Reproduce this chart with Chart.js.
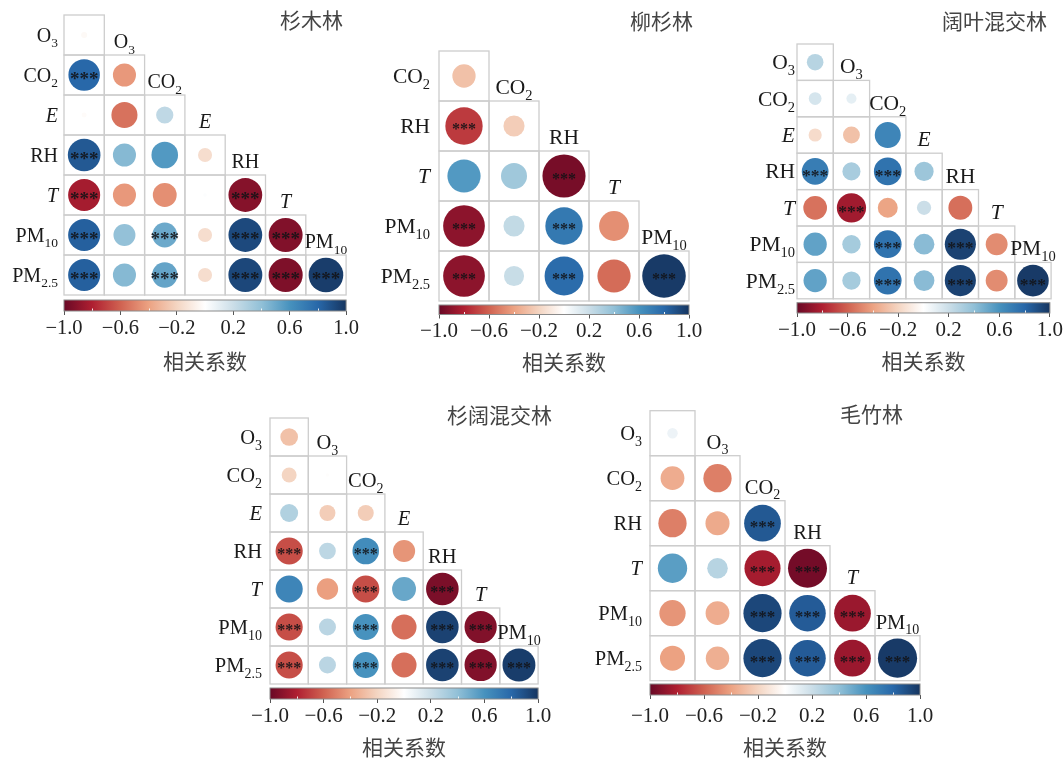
<!DOCTYPE html>
<html>
<head>
<meta charset="utf-8">
<script src="https://cdn.jsdelivr.net/npm/chart.js@4/dist/chart.umd.min.js"></script>
<style>
  html, body { margin: 0; padding: 0; background: #fff; }
  #wrap { position: relative; width: 1064px; height: 760px; overflow: hidden; background: #fff; }
  #wrap canvas { position: absolute; left: 0; top: 0; pointer-events: none; }
</style>
</head>
<body>
<div id="wrap"></div>
<script>
// ---------------- data ----------------
// 杉木林
const title1 = '杉木林';
const rows1 = ['O3', 'CO2', 'E', 'RH', 'T', 'PM10', 'PM2.5'];
const cols1 = ['', 'O3', 'CO2', 'E', 'RH', 'T', 'PM10'];
const corr1 = [
  [-0.03],
  [0.80, -0.43],
  [-0.02, -0.55, 0.24],
  [0.86, 0.43, 0.57, -0.16],
  [-0.83, -0.43, -0.46, 0.01, -0.92],
  [0.83, 0.39, 0.50, -0.16, 0.92, -0.93],
  [0.83, 0.43, 0.52, -0.16, 0.93, -0.94, 0.97]
];
const sig1 = [
  [0],
  [1, 0],
  [0, 0, 0],
  [1, 0, 0, 0],
  [1, 0, 0, 0, 1],
  [1, 0, 1, 0, 1, 1],
  [1, 0, 1, 0, 1, 1, 1]
];

// 柳杉林
const title2 = '柳杉林';
const rows2 = ['CO2', 'RH', 'T', 'PM10', 'PM2.5'];
const cols2 = ['', 'CO2', 'RH', 'T', 'PM10'];
const corr2 = [
  [-0.28],
  [-0.72, -0.23],
  [0.57, 0.35, -0.96],
  [-0.90, 0.23, 0.72, -0.46],
  [-0.90, 0.21, 0.78, -0.57, 0.98]
];
const sig2 = [
  [0],
  [1, 0],
  [0, 0, 1],
  [1, 0, 1, 0],
  [1, 0, 1, 0, 1]
];

// 阔叶混交林
const title3 = '阔叶混交林';
const rows3 = ['O3', 'CO2', 'E', 'RH', 'T', 'PM10', 'PM2.5'];
const cols3 = ['', 'O3', 'CO2', 'E', 'RH', 'T', 'PM10'];
const corr3 = [
  [0.27],
  [0.16, 0.10],
  [-0.17, -0.28, 0.66],
  [0.70, 0.32, 0.75, 0.36],
  [-0.55, -0.84, -0.39, 0.20, -0.56],
  [0.53, 0.33, 0.75, 0.42, 0.95, -0.47],
  [0.53, 0.33, 0.75, 0.42, 0.95, -0.47, 0.98]
];
const sig3 = [
  [0],
  [0, 0],
  [0, 0, 0],
  [1, 0, 1, 0],
  [0, 1, 0, 0, 0],
  [0, 0, 1, 0, 1, 0],
  [0, 0, 1, 0, 1, 0, 1]
];

// 杉阔混交林
const title4 = '杉阔混交林';
const rows4 = ['O3', 'CO2', 'E', 'RH', 'T', 'PM10', 'PM2.5'];
const cols4 = ['', 'O3', 'CO2', 'E', 'RH', 'T', 'PM10'];
const corr4 = [
  [-0.28],
  [-0.20, -0.01],
  [0.29, -0.23, -0.23],
  [-0.66, 0.25, 0.63, -0.44],
  [0.66, -0.41, -0.66, 0.51, -0.95],
  [-0.66, 0.26, 0.60, -0.56, 0.95, -0.93],
  [-0.66, 0.26, 0.60, -0.56, 0.95, -0.93, 0.97]
];
const sig4 = [
  [0],
  [0, 0],
  [0, 0, 0],
  [1, 0, 1, 0],
  [0, 0, 1, 0, 1],
  [1, 0, 1, 0, 1, 1],
  [1, 0, 1, 0, 1, 1, 1]
];

// 毛竹林
const title5 = '毛竹林';
const rows5 = ['O3', 'CO2', 'RH', 'T', 'PM10', 'PM2.5'];
const cols5 = ['', 'O3', 'CO2', 'RH', 'T', 'PM10'];
const corr5 = [
  [0.07],
  [-0.36, -0.51],
  [-0.51, -0.37, 0.86],
  [0.55, 0.27, -0.83, -0.97],
  [-0.44, -0.36, 0.93, 0.85, -0.86],
  [-0.40, -0.35, 0.93, 0.85, -0.86, 0.98]
];
const sig5 = [
  [0],
  [0, 0],
  [0, 0, 1],
  [0, 0, 1, 1],
  [0, 0, 1, 1, 1],
  [0, 0, 1, 1, 1, 1]
];

// colour bar
const cbarTicks = [-1, -0.6, -0.2, 0.2, 0.6, 1];
const cbarMinor = [-0.8, -0.4, 0, 0.4, 0.8];
const cbarTitle = '相关系数';

// ---------------- styling ----------------
const W = 1064, H = 760;
const SERIF = '"Liberation Serif", "DejaVu Serif", serif';
const CJK = '"Noto Sans CJK SC", "Noto Sans", sans-serif';
const RDBU_BASE = ['#67001F', '#B2182B', '#D6604D', '#F4A582', '#FDDBC7', '#FFFFFF',
                   '#D1E5F0', '#92C5DE', '#4393C3', '#2166AC', '#0E2F5E'];

function hexToRgb(h) {
  const n = parseInt(h.slice(1), 16);
  return [(n >> 16) & 255, (n >> 8) & 255, n & 255];
}
// slightly softened diverging palette
const RDBU_RGB = RDBU_BASE.map(hexToRgb).map(c => c.map(v => Math.round(v * 0.93 + 128 * 0.07)));
RDBU_RGB[5] = [255, 255, 255];
const RDBU = RDBU_RGB.map(c => `rgb(${c[0]},${c[1]},${c[2]})`);

function rdbu(v) {
  const t = (Math.max(-1, Math.min(1, v)) + 1) / 2 * (RDBU_RGB.length - 1);
  const i = Math.min(Math.floor(t), RDBU_RGB.length - 2);
  const f = t - i;
  const a = RDBU_RGB[i], b = RDBU_RGB[i + 1];
  const c = a.map((av, k) => Math.round(av + (b[k] - av) * f));
  return `rgb(${c[0]},${c[1]},${c[2]})`;
}

// panel geometry (grid origin, cell size, fonts, title spot, colour bar)
const layouts = [
  { left: 64,  top: 15,    cw: 40.3, ch: 40,   font: 20,   sub: 13.5, gap: 6, star: 19,
    titleX: 343, titleY: 20,  barTop: 300,   barH: 11,   tickPad: 1, tickFont: 20.5, axisTitleY: 361 },
  { left: 439, top: 51,    cw: 50,   ch: 50,   font: 21.5, sub: 14.5, gap: 9, star: 16,
    titleX: 693, titleY: 21,  barTop: 305,   barH: 9.5,  tickPad: 0, tickFont: 21, axisTitleY: 362.5 },
  { left: 797, top: 44,    cw: 36.3, ch: 36.4, font: 21.5, sub: 14.5, gap: 2, star: 17.5,
    titleX: 1047, titleY: 21, barTop: 302.7, barH: 10.3, tickPad: 1, tickFont: 21, axisTitleY: 361 },
  { left: 270, top: 418,   cw: 38.3, ch: 38,   font: 20.5, sub: 14,   gap: 8, star: 16,
    titleX: 552, titleY: 415, barTop: 688,   barH: 11,   tickPad: 1, tickFont: 21, axisTitleY: 747 },
  { left: 650, top: 410.7, cw: 45,   ch: 45,   font: 20.5, sub: 14,   gap: 8, star: 17,
    titleX: 903, titleY: 414, barTop: 684,   barH: 11,   tickPad: 5, tickFont: 21, axisTitleY: 747.5 }
];

const panels = [
  { title: title1, rows: rows1, cols: cols1, corr: corr1, sig: sig1 },
  { title: title2, rows: rows2, cols: cols2, corr: corr2, sig: sig2 },
  { title: title3, rows: rows3, cols: cols3, corr: corr3, sig: sig3 },
  { title: title4, rows: rows4, cols: cols4, corr: corr4, sig: sig4 },
  { title: title5, rows: rows5, cols: cols5, corr: corr5, sig: sig5 }
];

// ---------------- helpers ----------------
function splitLabel(s) {
  const m = s.match(/^([A-Za-z]+)([0-9.]+)$/);
  const main = m ? m[1] : s;
  const sub = m ? m[2] : '';
  return { main, sub, italic: s.length === 1 };
}

function drawVarLabel(ctx, s, x, baseline, align, fs, subFs) {
  const { main, sub, italic } = splitLabel(s);
  const mainFont = `${italic ? 'italic ' : ''}${fs}px ${SERIF}`;
  const subFont = `${subFs}px ${SERIF}`;
  ctx.font = mainFont;
  const wm = ctx.measureText(main).width;
  ctx.font = subFont;
  const ws = sub ? ctx.measureText(sub).width : 0;
  const total = wm + ws;
  const x0 = align === 'right' ? x - total : x - total / 2;
  ctx.textAlign = 'left';
  ctx.textBaseline = 'alphabetic';
  ctx.font = mainFont;
  ctx.fillText(main, x0, baseline);
  if (sub) {
    ctx.font = subFont;
    ctx.fillText(sub, x0 + wm, baseline + fs * 0.28);
  }
}

function makeCanvas() {
  const c = document.createElement('canvas');
  c.width = W; c.height = H;
  c.style.width = W + 'px'; c.style.height = H + 'px';
  document.getElementById('wrap').appendChild(c);
  return c;
}

function cellSize(chart) {
  const { x, y } = chart.scales;
  return Math.min(Math.abs(x.getPixelForValue(1) - x.getPixelForValue(0)),
                  Math.abs(y.getPixelForValue(1) - y.getPixelForValue(0)));
}

function circleRadius(ctx) {
  return ctx.raw ? 0.44 * cellSize(ctx.chart) * Math.sqrt(Math.abs(ctx.raw.v)) : 0;
}

// lower-triangle grid, significance stars, variable names and panel title
function corrPlugin(panel, lay) {
  return {
    id: 'corrPanel',
    beforeDatasetsDraw(chart) {
      const { ctx, scales: { x, y } } = chart;
      const n = panel.rows.length;
      ctx.save();
      ctx.strokeStyle = '#cdcdcd';
      ctx.lineWidth = 1.3;
      for (let i = 0; i < n; i++) {
        for (let j = 0; j <= i; j++) {
          const x0 = x.getPixelForValue(j - 0.5), x1 = x.getPixelForValue(j + 0.5);
          const y0 = y.getPixelForValue(i - 0.5), y1 = y.getPixelForValue(i + 0.5);
          ctx.strokeRect(x0, y0, x1 - x0, y1 - y0);
        }
      }
      ctx.restore();
    },
    afterDatasetsDraw(chart) {
      const { ctx, scales: { x, y } } = chart;
      const meta = chart.getDatasetMeta(0);
      const pts = chart.data.datasets[0].data;
      ctx.save();
      // significance marks
      ctx.fillStyle = 'rgba(18,18,22,0.88)';
      ctx.font = `bold ${lay.star}px ${SERIF}`;
      ctx.textAlign = 'center';
      ctx.textBaseline = 'alphabetic';
      pts.forEach((p, k) => {
        if (!p.s) return;
        const el = meta.data[k];
        ctx.fillText('***', el.x, el.y + lay.star * 0.52);
      });
      // row names on the left
      ctx.fillStyle = '#1a1a1a';
      const gridLeft = x.getPixelForValue(-0.5);
      panel.rows.forEach((name, i) => {
        drawVarLabel(ctx, name, gridLeft - lay.gap, y.getPixelForValue(i) + lay.font * 0.33,
                     'right', lay.font, lay.sub);
      });
      // column names along the staircase
      panel.cols.forEach((name, j) => {
        if (!name) return;
        const topOfCell = y.getPixelForValue(j - 0.5);
        drawVarLabel(ctx, name, x.getPixelForValue(j), topOfCell - 7, 'center', lay.font, lay.sub);
      });
      // panel title
      ctx.fillStyle = '#444';
      ctx.font = `21px ${CJK}`;
      ctx.textAlign = 'right';
      ctx.textBaseline = 'middle';
      ctx.fillText(panel.title, lay.titleX, lay.titleY);
      ctx.restore();
    }
  };
}

// gradient bar behind the colour-bar axis
const cbarPlugin = {
  id: 'cbar',
  beforeDatasetsDraw(chart) {
    const { ctx, chartArea: a, scales: { x } } = chart;
    const xa = x.getPixelForValue(-1), xb = x.getPixelForValue(1);
    const g = ctx.createLinearGradient(xa, 0, xb, 0);
    RDBU.forEach((c, i) => g.addColorStop(i / (RDBU.length - 1), c));
    ctx.save();
    ctx.fillStyle = g;
    ctx.fillRect(xa, a.top, xb - xa, a.bottom - a.top);
    ctx.strokeStyle = 'rgba(255,255,255,0.9)';
    ctx.lineWidth = 1;
    cbarMinor.forEach(v => {
      const px = Math.round(x.getPixelForValue(v)) + 0.5;
      ctx.beginPath();
      ctx.moveTo(px, a.bottom - 2.5);
      ctx.lineTo(px, a.bottom);
      ctx.stroke();
    });
    ctx.strokeStyle = '#8a8a8a';
    ctx.lineWidth = 1;
    ctx.strokeRect(xa, a.top, xb - xa, a.bottom - a.top);
    ctx.restore();
  }
};

function fmtTick(v) {
  const s = Math.abs(v).toFixed(1);
  return v < -1e-9 ? '\u2212' + s : s;
}

// ---------------- build the charts ----------------
panels.forEach((panel, idx) => {
  const lay = layouts[idx];
  const n = panel.rows.length;
  const gridW = n * lay.cw, gridH = n * lay.ch;

  const points = [];
  panel.corr.forEach((row, i) => row.forEach((v, j) => {
    points.push({ x: j, y: i, v: v, s: panel.sig[i][j] });
  }));

  new Chart(makeCanvas(), {
    type: 'scatter',
    data: {
      datasets: [{
        data: points,
        pointRadius: circleRadius,
        pointHoverRadius: circleRadius,
        backgroundColor: ctx => ctx.raw ? rdbu(ctx.raw.v) : '#fff',
        borderWidth: 0,
        pointBorderWidth: 0
      }]
    },
    options: {
      responsive: false,
      animation: false,
      devicePixelRatio: 1,
      events: [],
      layout: {
        padding: { left: lay.left, top: lay.top, right: W - lay.left - gridW, bottom: H - lay.top - gridH }
      },
      scales: {
        x: { type: 'linear', min: -0.5, max: n - 0.5, display: false },
        y: { type: 'linear', min: -0.5, max: n - 0.5, reverse: true, display: false }
      },
      plugins: { legend: { display: false }, tooltip: { enabled: false }, title: { display: false } }
    },
    plugins: [corrPlugin(panel, lay)]
  });

  // colour bar underneath the grid
  const barBottom = lay.barTop + lay.barH;
  const axisH = lay.axisTitleY - barBottom + 21 * 1.2 / 2;
  new Chart(makeCanvas(), {
    type: 'scatter',
    data: { datasets: [{ data: [] }] },
    options: {
      responsive: false,
      animation: false,
      devicePixelRatio: 1,
      events: [],
      layout: {
        padding: { left: lay.left, top: lay.barTop, right: W - lay.left - gridW, bottom: H - barBottom - axisH }
      },
      scales: {
        x: {
          type: 'linear', min: -1, max: 1, position: 'bottom',
          afterBuildTicks: s => { s.ticks = cbarTicks.map(v => ({ value: v })); },
          afterFit: s => { s.height = axisH; },
          ticks: {
            font: { family: SERIF, size: lay.tickFont },
            color: '#222', padding: lay.tickPad, maxRotation: 0, minRotation: 0, autoSkip: false,
            callback: v => fmtTick(v)
          },
          grid: { drawOnChartArea: false, drawTicks: true, tickLength: 4, color: '#555', lineWidth: 1 },
          border: { display: false },
          title: {
            display: true, text: cbarTitle, color: '#444',
            font: { family: CJK, size: 21, lineHeight: 1.2 }, padding: { top: 0, bottom: 0 }
          }
        },
        y: { min: 0, max: 1, display: false }
      },
      plugins: { legend: { display: false }, tooltip: { enabled: false }, title: { display: false } }
    },
    plugins: [cbarPlugin]
  });
});
</script>
</body>
</html>
